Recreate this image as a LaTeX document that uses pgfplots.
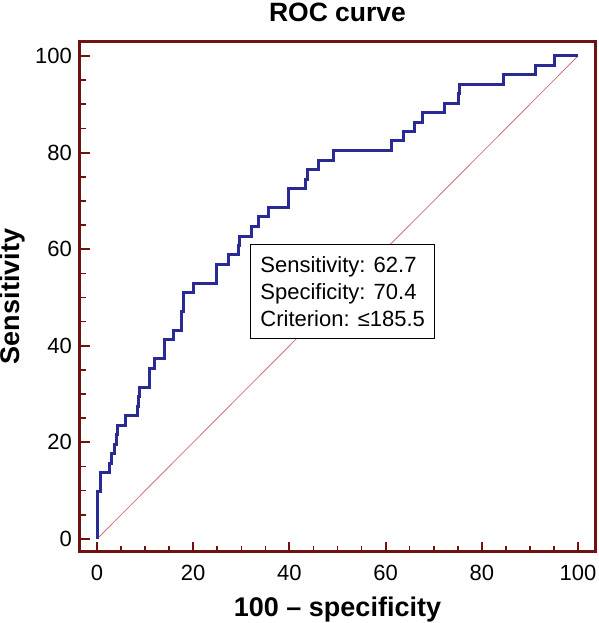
\documentclass[border=0pt]{standalone}
\usepackage{pgfplots}
\pgfplotsset{compat=1.18}
\usepackage{fontspec}
\setmainfont{Liberation Sans}
\definecolor{framered}{RGB}{110,18,18}
\definecolor{rocblue}{RGB}{42,42,148}
\definecolor{diagred}{RGB}{205,115,115}
\begin{document}
\begin{tikzpicture}
\begin{axis}[
  name=ax,
  scale only axis, width=516pt, height=510pt,
  xmin=-3.64, xmax=103.64, ymin=-2.59, ymax=103.0,
  axis line style={draw=framered, line width=2.8pt},
  xtick={0,20,40,60,80,100}, ytick={0,20,40,60,80,100},
  minor tick num=3,
  tick align=inside, xtick pos=bottom, ytick pos=left,
  major tick style={draw=framered, line width=2pt},
  minor tick style={draw=framered, line width=1.6pt},
  major tick length=10pt, minor tick length=6pt,
  /pgf/number format/assume math mode=true,
  ticklabel style={font=\fontsize{22}{22}\selectfont},
  xticklabel style={anchor=base, yshift=-28.5pt, inner sep=0pt},
  yticklabel style={anchor=east, inner sep=0pt, xshift=-7.5pt},
  title={ROC curve},
  xlabel={100 – specificity},
  ylabel={Sensitivity},
  every axis title/.style={at={(axis description cs:0.5,1)}, anchor=base, yshift=20pt, inner sep=0pt, font=\bfseries\fontsize{26.5}{26.5}\selectfont},
  every axis x label/.style={at={(axis description cs:0.5,0)}, anchor=base, yshift=-65pt, inner sep=0pt, font=\bfseries\fontsize{27}{27}\selectfont},
  every axis y label/.style={at={(axis description cs:0,0.5)}, xshift=-59.5pt, rotate=90, anchor=base, inner sep=0pt, font=\bfseries\fontsize{27}{27}\selectfont},
]
\addplot[diagred, line width=0.8pt] coordinates {(0,0)(100,100)};
\addplot[rocblue, line width=3pt, line join=miter] coordinates {
(0,0)(0,9.8)(0.8,9.8)(0.8,13.7)(2.6,13.7)(2.6,15.7)(3.1,15.7)(3.1,17.6)(3.7,17.6)(3.7,19.6)(4.0,19.6)(4.0,21.6)(4.2,21.6)(4.2,23.5)(5.9,23.5)(5.9,25.5)(8.4,25.5)(8.4,27.5)(8.6,27.5)(8.6,29.4)(8.9,29.4)(8.9,31.4)(11.0,31.4)(11.0,35.3)(11.9,35.3)(11.9,37.3)(14.1,37.3)(14.1,41.2)(15.9,41.2)(15.9,43.1)(17.6,43.1)(17.6,47.1)(17.9,47.1)(17.9,51.0)(20.0,51.0)(20.0,52.9)(24.9,52.9)(24.9,56.9)(27.3,56.9)(27.3,58.8)(29.4,58.8)(29.4,60.8)(29.6,60.8)(29.6,62.7)(32.2,62.7)(32.2,64.7)(33.5,64.7)(33.5,66.7)(35.6,66.7)(35.6,68.6)(39.8,68.6)(39.8,72.5)(43.3,72.5)(43.3,74.5)(43.8,74.5)(43.8,76.5)(46.1,76.5)(46.1,78.4)(49.1,78.4)(49.1,80.4)(61.3,80.4)(61.3,82.4)(63.7,82.4)(63.7,84.3)(66.1,84.3)(66.1,86.3)(67.6,86.3)(67.6,88.2)(72.3,88.2)(72.3,90.2)(75.1,90.2)(75.1,92.2)(75.3,92.2)(75.3,94.1)(84.5,94.1)(84.5,96.1)(91.1,96.1)(91.1,98.0)(95.2,98.0)(95.2,100)(100,100)
};
\node[draw=black, line width=1pt, fill=white, anchor=north west, align=left,
  font=\fontsize{22}{26.7}\selectfont, inner xsep=9.5pt, inner ysep=12pt]
  at (axis cs:31.9,61.0) {Sensitivity: 62.7\\Specificity: 70.4\\Criterion: ≤185.5};
\end{axis}
\pgfresetboundingbox
\path ([shift={(-79.5pt,-71.5pt)}]ax.south west) rectangle ([shift={(2.5pt,41.5pt)}]ax.north east);
\end{tikzpicture}
\end{document}
